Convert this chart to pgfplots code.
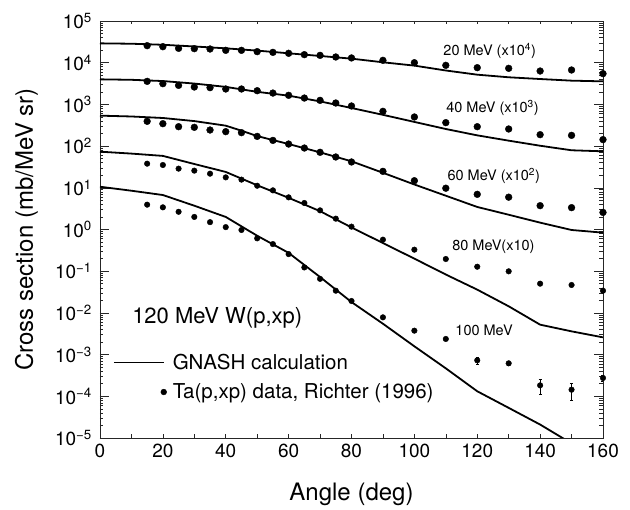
\documentclass[border=0pt]{standalone}
\usepackage{fontspec}
\setmainfont{TeX Gyre Heros}
\usepackage{pgfplots}
\pgfplotsset{compat=1.18}
\pgfplotsset{
  mylineleg/.style={legend image code/.code={\draw[draw=none] (0pt,-3pt) -- (53pt,3pt); \draw[##1, line width=1.1pt] (0pt,0pt) -- (50pt,0pt);}},
  mymarkleg/.style={legend image code/.code={\draw[draw=none] (0pt,-3pt) -- (53pt,3pt); \draw[##1, mark size=2.9pt] plot coordinates {(50pt,0pt)};}},
}
\begin{document}
\begin{tikzpicture}
\useasboundingbox (-100pt,-72pt) rectangle (530pt,438pt);
\begin{axis}[
  at={(0pt,0pt)}, anchor=south west,
  scale only axis, width=503pt, height=417pt,
  ymode=log, xmin=0, xmax=160, ymin=1e-5, ymax=1e5,
  axis line style={black!85, line width=0.6pt},
  tick style={black!85, line width=0.5pt},
  major tick length=9pt, minor tick length=3.5pt,
  tick align=inside,
  xtick={0,20,...,160},
  minor xtick={0,10,...,160},
  every major x tick/.style={draw=none},
  xticklabels={0,20,40,60,80,100,120,140,160},
  ytick={1e-5,1e-4,1e-3,1e-2,1e-1,1,1e1,1e2,1e3,1e4,1e5},
  yticklabels={10\textsuperscript{−5},10\textsuperscript{−4},10\textsuperscript{−3},10\textsuperscript{−2},10\textsuperscript{−1},10\textsuperscript{0},10\textsuperscript{1},10\textsuperscript{2},10\textsuperscript{3},10\textsuperscript{4},10\textsuperscript{5}},
  ticklabel style={font=\fontsize{19}{22}\selectfont},
  xticklabel style={yshift=-2pt},
  yticklabel style={inner xsep=0pt, xshift=-8pt},
  xlabel={Angle (deg)},
  ylabel={Cross section (mb/MeV sr)},
  every axis x label/.style={at={(axis description cs:0.5,0)}, anchor=base, yshift=-63pt, font=\fontsize{24}{28}\selectfont},
  every axis y label/.style={at={(axis description cs:-0.146,0.5)}, rotate=90, anchor=center, font=\fontsize{24}{28}\selectfont},
  legend cell align=left,
  legend style={draw=none, fill=none, at={(axis description cs:0.0199,0.146)}, anchor=west,
    font=\fontsize{20.5}{24}\selectfont, row sep=13pt, column sep=3pt,
    nodes={inner xsep=3pt, inner ysep=0pt}},
]
% --- GNASH calculations ---
\addplot[black, line width=1.8pt, mylineleg] table {
x y
0 29100
10 28500
20 26900
30 24500
40 22100
50 19500
60 16800
70 14500
80 12500
90 10230
100 8510
110 6500
120 5160
130 4470
140 4060
150 3710
160 3570
};
\addlegendentry{GNASH calculation}
% --- data 20 MeV ---
\addplot[black, only marks, mark=*, mark size=3.4pt, mymarkleg] table {
x y
15 25600
20 24200
25 22100
30 21700
35 21300
40 19800
45 19800
50 18400
55 17700
60 16800
65 15600
70 15000
75 13700
80 13000
90 11400
100 10000
110 8650
120 7600
130 7330
140 6320
150 6680
160 5460
};
\addlegendentry{Ta(p,xp) data, Richter (1996)}
% --- 40 MeV ---
\addplot[black, line width=1.8pt, forget plot] table {
x y
0 3990
10 3890
20 3630
30 3160
40 2630
50 2000
60 1620
70 1180
80 820
90 562
100 380
110 257
120 181
130 135
140 102
150 79.4
160 75
};
\addplot[black, only marks, mark=*, mark size=3.4pt, forget plot] table {
x y
15 3570
20 3140
25 2860
30 2610
35 2520
40 2340
45 2340
50 2130
55 1870
60 1650
65 1420
70 1250
75 1080
80 916
90 682
100 499
110 365
120 292
130 257
140 188
150 181
160 143
};
% --- 60 MeV ---
\addplot[black, line width=1.8pt, forget plot] table {
x y
0 537
10 513
20 472
30 398
40 309
45 234
50 174
60 112
70 70.8
80 43.2
90 22.9
100 12.0
110 6.46
120 3.47
130 2.26
140 1.46
150 0.973
160 0.84
};
\addplot[black, only marks, mark=*, mark size=3.4pt, forget plot] table {
x y
15 393
20 345
25 292
30 282
35 243
40 222
45 210
50 171
55 137
60 112
65 89.9
70 71.0
75 54.8
80 41.6
90 24.8
100 14.8
110 9.77
120 6.97
130 5.96
140 3.73
150 3.34
160 2.57
};
% --- 80 MeV ---
\addplot[black, line width=1.8pt, forget plot] table {
x y
0 73.5
10 66.1
20 58.2
30 37.2
40 24.0
50 11.5
60 5.75
70 2.75
80 1.12
90 0.473
100 0.200
110 0.0832
120 0.0361
130 0.0144
140 0.00522
150 0.00361
160 0.00259
};
\addplot[black, only marks, mark=*, mark size=2.8pt, forget plot] table {
x y
15 37.9
20 35.2
25 28.8
30 25.8
35 21.8
40 17.8
45 15.7
50 11.2
55 8.69
60 5.90
65 4.32
70 2.88
75 1.82
80 1.17
90 0.570
100 0.328
110 0.196
120 0.128
130 0.0993
140 0.0502
150 0.0467
160 0.0341
};
% --- 100 MeV ---
\addplot[black, line width=1.8pt, forget plot] table {
x y
0 10.6
10 8.51
20 6.71
30 3.72
40 2.00
50 0.708
60 0.275
70 0.0724
80 0.0182
90 0.0055
100 0.00158
110 0.000468
120 0.000132
130 0.0000528
140 0.0000210
150 0.00000741
};
\addplot[black, only marks, mark=*, mark size=2.8pt, forget plot,
  error bars/.cd, y dir=both, y explicit,
  error bar style={black, line width=0.5pt},
  error mark options={rotate=90, mark size=1.6pt, black, line width=0.5pt}]
  table[x=x, y=y, y error plus=ep, y error minus=em] {
x y ep em
15 3.94 0 0
20 3.40 0 0
25 2.66 0 0
30 2.00 0 0
35 1.50 0 0
40 1.14 0 0
45 0.973 0 0
50 0.614 0 0
55 0.447 0 0
60 0.257 0 0
65 0.123 0 0
70 0.0656 0 0
75 0.0341 0 0
80 0.0193 0 0
90 0.00783 0 0
100 0.00375 0 0
110 0.00237 0 0
120 0.000729 0.00014 0.00014
130 0.000618 0.00006 0.00006
140 0.000183 0.000068 0.000073
150 0.000144 0.000065 0.000065
160 0.000275 0.00004 0.00004
};
% --- annotations ---
\node[anchor=west, inner sep=0pt, font=\fontsize{14.5}{16}\selectfont] at (axis cs:109.2,1.9e4) {20 MeV (x10\textsuperscript{4})};
\node[anchor=west, inner sep=0pt, font=\fontsize{14.5}{16}\selectfont] at (axis cs:110.1,805) {40 MeV (x10\textsuperscript{3})};
\node[anchor=west, inner sep=0pt, font=\fontsize{14.5}{16}\selectfont] at (axis cs:110.5,19.5) {60 MeV (x10\textsuperscript{2})};
\node[anchor=west, inner sep=0pt, font=\fontsize{14.5}{16}\selectfont] at (axis cs:112.0,0.386) {80 MeV(x10)};
\node[anchor=west, inner sep=0pt, font=\fontsize{14.5}{16}\selectfont] at (axis cs:113.0,3.74e-3) {100 MeV};
\node[anchor=west, inner sep=0pt, font=\fontsize{22}{26}\selectfont] at (axis cs:10.2,7.55e-3) {120 MeV W(p,xp)};
\end{axis}
\end{tikzpicture}
\end{document}
